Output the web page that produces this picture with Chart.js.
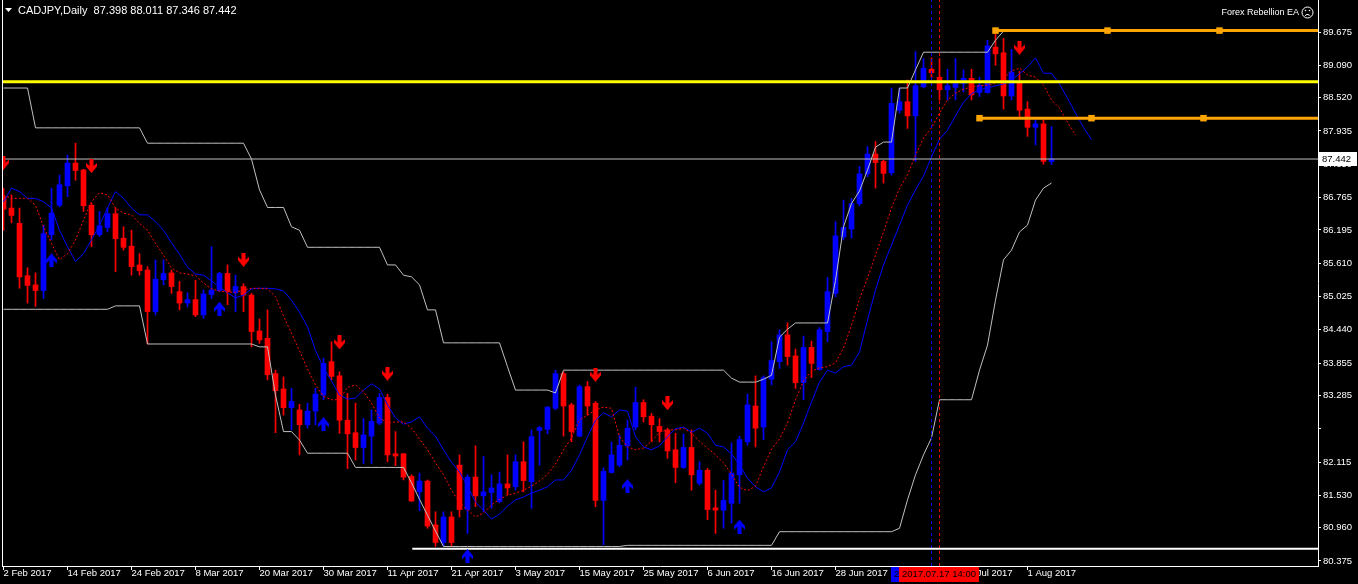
<!DOCTYPE html>
<html>
<head>
<meta charset="utf-8">
<title>CADJPY,Daily</title>
<script src="https://cdn.jsdelivr.net/npm/chart.js@4.4.1/dist/chart.umd.min.js"></script>
<style>
  html, body { margin:0; padding:0; background:#000; overflow:hidden; }
  #wrap { width:1358px; height:584px; }
</style>
</head>
<body>
<div id="wrap"><canvas id="chart" width="1358" height="584"></canvas></div>
<script>
// ============ Data (daily bars, 2 Feb 2017 .. 4 Aug 2017) ============
const SYMBOL = "CADJPY,Daily";

const OPEN = [
  86.78, 86.58, 86.31, 85.39, 85.23, 85.13, 86.11, 86.63, 86.97, 87.37,
  87.25, 86.63, 86.11, 86.24, 86.48, 86.05, 85.91, 85.58, 85.49, 84.76,
  85.32, 85.44, 85.11, 84.91, 84.97, 84.70, 85.06, 85.13, 85.43, 85.09,
  85.20, 85.05, 84.42, 84.29, 83.67, 83.40, 83.07, 83.03, 82.77, 83.01,
  83.29, 83.88, 83.63, 82.85, 82.63, 82.37, 82.57, 82.80, 83.25, 82.26,
  82.26, 81.86, 81.59, 81.78, 81.01, 80.70, 81.15, 82.06, 81.28, 81.85,
  81.52, 81.58, 81.42, 81.73, 81.68, 82.12, 81.77, 82.67, 82.69, 83.06,
  83.67, 83.12, 82.57, 83.44, 83.15, 81.44, 81.93, 82.06, 82.40, 82.73,
  83.16, 82.92, 82.74, 82.68, 82.33, 82.02, 82.37, 81.74, 81.97, 81.31,
  81.27, 81.39, 81.89, 82.47, 83.10, 82.73, 83.57, 83.88, 84.35, 83.98,
  83.51, 84.13, 83.74, 84.41, 85.08, 86.07, 86.21, 86.66, 87.18, 87.53,
  87.40, 87.20, 88.30, 88.45, 88.20, 88.71, 89.02, 88.88, 88.66, 88.70,
  88.77, 88.86, 88.61, 88.61, 89.41, 89.31, 88.55, 88.80, 88.32, 88.00,
  88.06, 87.398
];
const HIGH = [
  86.93, 86.81, 86.58, 85.53, 85.44, 86.28, 86.93, 87.16, 87.51, 87.72,
  87.26, 86.66, 86.52, 86.58, 86.58, 86.25, 86.19, 85.78, 85.55, 85.67,
  85.67, 85.49, 85.29, 85.09, 85.31, 85.14, 85.90, 85.45, 85.58, 85.40,
  85.25, 85.08, 84.63, 84.79, 83.73, 83.61, 83.41, 83.13, 83.15, 83.41,
  83.94, 84.23, 83.70, 83.32, 83.15, 82.88, 83.03, 83.32, 83.31, 82.65,
  82.27, 81.89, 81.92, 81.80, 81.24, 81.24, 81.24, 82.24, 81.89, 82.40,
  82.21, 81.89, 81.94, 82.24, 82.24, 82.47, 82.68, 82.74, 83.09, 83.73,
  83.70, 83.15, 83.47, 83.53, 83.18, 82.01, 82.47, 82.59, 82.85, 83.43,
  83.21, 82.97, 82.88, 82.71, 82.62, 82.61, 82.68, 82.12, 82.00, 81.62,
  81.79, 82.45, 82.57, 83.31, 83.63, 83.63, 84.23, 84.44, 84.56, 84.10,
  84.33, 84.24, 84.48, 85.36, 86.34, 86.72, 86.75, 87.31, 87.66, 87.75,
  87.42, 88.69, 88.69, 88.83, 89.33, 89.21, 89.22, 89.21, 89.02, 89.21,
  89.01, 89.02, 88.88, 89.53, 89.69, 89.56, 89.37, 88.98, 88.45, 88.16,
  88.13, 88.011
];
const LOW = [
  86.19, 86.32, 85.17, 84.91, 84.85, 84.99, 86.02, 86.60, 86.78, 87.07,
  86.52, 85.90, 86.08, 86.16, 85.46, 85.84, 85.40, 85.40, 84.19, 84.70,
  85.23, 85.08, 84.79, 84.84, 84.67, 84.64, 84.99, 85.11, 84.88, 84.76,
  84.76, 84.14, 84.20, 83.56, 82.63, 82.94, 82.68, 82.24, 82.71, 82.77,
  83.21, 83.56, 82.62, 82.00, 82.15, 82.09, 82.09, 82.77, 82.12, 82.05,
  81.80, 81.42, 81.26, 80.95, 80.63, 80.64, 80.63, 81.15, 80.86, 81.33,
  81.24, 81.30, 81.40, 81.54, 81.62, 81.59, 81.30, 82.06, 82.61, 83.03,
  82.57, 82.47, 82.56, 82.94, 81.33, 80.66, 81.92, 82.03, 82.15, 82.68,
  82.82, 82.47, 82.47, 82.18, 81.75, 82.00, 81.62, 81.71, 81.10, 80.86,
  80.95, 81.04, 81.39, 82.41, 82.38, 82.51, 83.47, 83.76, 83.82, 83.41,
  83.21, 83.60, 83.73, 84.23, 85.02, 86.02, 86.05, 86.62, 87.13, 86.93,
  87.02, 87.16, 88.25, 87.98, 87.40, 88.69, 88.87, 88.48, 88.48, 88.48,
  88.62, 88.48, 88.54, 88.60, 89.09, 88.32, 88.48, 88.19, 87.84, 87.69,
  87.35, 87.346
];
const CLOSE = [
  86.56, 86.45, 85.37, 85.22, 85.13, 86.13, 86.49, 86.99, 87.37, 87.24,
  86.62, 86.11, 86.27, 86.48, 86.04, 85.89, 85.55, 85.48, 84.76, 85.33,
  85.43, 85.20, 84.91, 84.97, 84.70, 85.07, 85.14, 85.43, 85.11, 85.20,
  85.05, 84.41, 84.26, 83.65, 83.37, 83.07, 83.18, 82.77, 83.01, 83.31,
  83.85, 83.62, 82.85, 82.61, 82.37, 82.59, 82.83, 83.25, 82.24, 82.22,
  81.85, 81.43, 81.78, 80.99, 80.70, 81.15, 80.70, 81.28, 81.85, 81.52,
  81.59, 81.66, 81.73, 81.66, 82.12, 81.79, 82.56, 82.72, 83.08, 83.67,
  83.10, 82.65, 83.44, 83.10, 81.44, 81.95, 82.24, 82.41, 82.71, 83.16,
  82.91, 82.77, 82.65, 82.31, 82.02, 82.37, 81.89, 81.97, 81.28, 81.27,
  81.44, 81.92, 82.51, 83.12, 82.71, 83.60, 83.90, 84.35, 83.97, 83.51,
  84.13, 83.85, 84.44, 85.11, 86.09, 86.24, 86.66, 87.18, 87.53, 87.38,
  87.19, 88.42, 88.45, 88.20, 88.73, 89.04, 88.96, 88.66, 88.73, 88.77,
  88.86, 88.57, 88.74, 89.43, 89.29, 88.55, 88.97, 88.30, 88.00, 88.06,
  87.40, 87.442
];

// slow line (blue), drawn 5 bars past the last candle
const JAW = [
  86.69, 86.93, 86.87, 86.75, 86.75, 86.69, 86.58, 86.19, 85.90, 85.64,
  85.78, 86.02, 86.28, 86.58, 86.87, 86.75, 86.58, 86.46, 86.46, 86.34,
  86.19, 85.97, 85.77, 85.54, 85.42, 85.40, 85.30, 85.19, 85.09, 85.00,
  85.05, 85.16, 85.17, 85.17, 85.16, 85.12, 84.96, 84.75, 84.49, 84.08,
  83.77, 83.54, 83.29, 83.22, 83.24, 83.38, 83.49, 83.40, 83.12, 82.89,
  82.78, 82.82, 82.91, 82.71, 82.57, 82.33, 82.11, 81.94, 81.69, 81.41,
  81.27, 81.11, 81.20, 81.34, 81.45, 81.50, 81.57, 81.62, 81.68, 81.80,
  81.80, 81.97, 82.24, 82.56, 82.85, 82.98, 82.91, 83.03, 83.01, 82.56,
  82.38, 82.33, 82.40, 82.56, 82.70, 82.73, 82.64, 82.71, 82.62, 82.41,
  82.38, 82.26, 82.06, 81.83, 81.68, 81.59, 81.66, 81.94, 82.33, 82.47,
  82.80, 83.17, 83.52, 83.73, 83.68, 83.79, 83.82, 84.05, 84.61, 85.14,
  85.58, 85.93, 86.28, 86.63, 86.90, 87.14, 87.48, 87.79, 87.95, 88.20,
  88.44, 88.59, 88.66, 88.69, 88.73, 88.76, 88.83, 88.94, 89.06, 89.22,
  88.95, 88.95, 88.76, 88.51, 88.25, 88.00, 87.78
];
// fast line (red dotted), drawn 3 bars past the last candle
const TEETH = [
  86.81, 86.75, 86.75, 86.75, 86.63, 86.25, 85.96, 85.67, 85.78, 86.02,
  86.37, 86.69, 86.85, 86.81, 86.58, 86.49, 86.46, 86.31, 86.19, 85.96,
  85.75, 85.53, 85.44, 85.42, 85.39, 85.26, 85.16, 85.12, 85.10, 85.10,
  85.14, 85.17, 85.17, 85.16, 85.02, 84.68, 84.38, 84.07, 83.75, 83.47,
  83.27, 83.21, 83.21, 83.43, 83.47, 83.35, 83.15, 82.89, 82.80, 82.82,
  82.82, 82.71, 82.52, 82.33, 82.10, 81.89, 81.62, 81.41, 81.27, 81.15,
  81.22, 81.36, 81.46, 81.53, 81.57, 81.62, 81.69, 81.78, 81.90, 82.08,
  82.33, 82.54, 82.85, 82.94, 83.03, 83.08, 83.06, 82.56, 82.38, 82.33,
  82.36, 82.48, 82.64, 82.68, 82.68, 82.71, 82.62, 82.48, 82.36, 82.24,
  82.10, 81.90, 81.67, 81.61, 81.69, 82.03, 82.34, 82.52, 82.80, 83.21,
  83.54, 83.71, 83.77, 83.79, 83.86, 84.12, 84.52, 84.98, 85.35, 85.75,
  86.16, 86.58, 86.93, 87.16, 87.51, 87.81, 87.99, 88.25, 88.48, 88.60,
  88.67, 88.71, 88.73, 88.74, 88.78, 88.85, 88.99, 89.04, 88.92, 88.88,
  88.74, 88.48, 88.34, 88.09, 87.86
];

// price channel (silver)
const CH_UP = [
  88.69, 88.69, 88.69, 88.69, 87.99, 87.99, 87.99, 87.99, 87.99, 87.99,
  87.99, 87.99, 87.99, 87.99, 87.99, 87.99, 87.99, 87.99, 87.72, 87.72,
  87.72, 87.72, 87.72, 87.72, 87.72, 87.72, 87.72, 87.72, 87.72, 87.72,
  87.72, 87.44, 86.90, 86.59, 86.59, 86.59, 86.25, 86.19, 85.89, 85.89,
  85.89, 85.89, 85.89, 85.89, 85.89, 85.89, 85.89, 85.89, 85.58, 85.58,
  85.40, 85.37, 85.23, 84.79, 84.79, 84.21, 84.21, 84.21, 84.21, 84.21,
  84.21, 84.21, 84.21, 83.79, 83.38, 83.38, 83.38, 83.38, 83.38, 83.33,
  83.73, 83.73, 83.73, 83.73, 83.73, 83.73, 83.73, 83.73, 83.73, 83.73,
  83.73, 83.73, 83.73, 83.73, 83.73, 83.73, 83.73, 83.73, 83.73, 83.73,
  83.73, 83.59, 83.52, 83.52, 83.52, 83.57, 83.64, 84.31, 84.45, 84.56,
  84.56, 84.56, 84.56, 84.56, 85.31, 86.25, 86.66, 86.88, 87.25, 87.65,
  87.74, 87.74, 88.69, 88.69, 89.01, 89.32, 89.32, 89.32, 89.32, 89.32,
  89.32, 89.32, 89.32, 89.32, 89.53, 89.69, 89.69, 89.69, 89.69, 89.69,
  89.69, 89.69
];
const CH_LO = [
  84.80, 84.80, 84.80, 84.80, 84.80, 84.80, 84.80, 84.80, 84.80, 84.80,
  84.80, 84.80, 84.80, 84.80, 84.86, 84.86, 84.86, 84.86, 84.19, 84.19,
  84.19, 84.19, 84.19, 84.19, 84.19, 84.19, 84.19, 84.19, 84.19, 84.19,
  84.19, 84.19, 84.14, 84.14, 83.29, 82.65, 82.65, 82.50, 82.27, 82.27,
  82.27, 82.27, 82.27, 82.27, 82.02, 82.02, 82.02, 82.02, 82.02, 82.02,
  82.02, 81.75, 81.46, 81.18, 80.90, 80.63, 80.63, 80.63, 80.63, 80.63,
  80.63, 80.63, 80.63, 80.63, 80.63, 80.63, 80.63, 80.63, 80.63, 80.63,
  80.63, 80.63, 80.63, 80.63, 80.63, 80.63, 80.63, 80.63, 80.65, 80.65,
  80.65, 80.65, 80.65, 80.65, 80.65, 80.65, 80.65, 80.65, 80.65, 80.65,
  80.65, 80.65, 80.65, 80.65, 80.65, 80.65, 80.65, 80.89, 80.89, 80.89,
  80.89, 80.89, 80.89, 80.89, 80.89, 80.89, 80.89, 80.89, 80.89, 80.89,
  80.89, 80.89, 80.95, 81.45, 81.89, 82.24, 82.54, 83.21, 83.21, 83.21,
  83.21, 83.21, 83.73, 84.17, 84.96, 85.67, 85.84, 86.16, 86.28, 86.72,
  86.93, 87.02
];

// signal arrows (bar index, price)
const SELL_IDX = [0, 11, 30, 42, 48, 74, 83, 127];
const SELL_VAL = [87.38, 87.32, 85.67, 84.22, 83.67, 83.65, 83.15, 89.40];
const BUY_IDX  = [6, 27, 40, 58, 78, 92];
const BUY_VAL  = [85.66, 84.81, 82.78, 80.46, 81.69, 80.98];

// chart objects
const YELLOW_LEVEL = 88.80;
const FLOOR_LEVEL = 80.59, FLOOR_FROM = 51.1;
const ORANGE_HI = 89.70, ORANGE_HI_IDX = [124, 138, 152];
const ORANGE_LO = 88.16, ORANGE_LO_IDX = [122, 136, 150];
const VLINE_BLUE = 116, VLINE_RED = 117;
const VLINE_BLUE_TXT = "2017.07.14 14:00", VLINE_RED_TXT = "2017.07.17 14:00";

// axes
const DATE_TICKS  = [0, 8, 16, 24, 32, 40, 48, 56, 64, 72, 80, 88, 96, 104, 112, 120, 128];
const DATE_LABELS = ["2 Feb 2017", "14 Feb 2017", "24 Feb 2017", "8 Mar 2017", "20 Mar 2017",
  "30 Mar 2017", "11 Apr 2017", "21 Apr 2017", "3 May 2017", "15 May 2017", "25 May 2017",
  "6 Jun 2017", "16 Jun 2017", "28 Jun 2017", "10 Jul 2017", "20 Jul 2017", "1 Aug 2017"];
const PRICE_TICKS = [89.675, 89.090, 88.520, 87.935, 87.350, 86.765, 86.195, 85.610, 85.025,
  84.440, 83.855, 83.285, 82.700, 82.115, 81.530, 80.960, 80.375];
const HIDDEN_TICKS = [82.700];

// ============ Layout ============
const X_MIN = -0.1875, X_MAX = 164.3125;
const Y_MIN = 80.287, Y_MAX = 90.2376;
const FONT = "'Liberation Sans', Arial, sans-serif";
const BLUE = "#0000ff", RED = "#ff0000", SILVER = "#c0c0c0", ORANGE = "#ffa500";

// ============ Helpers ============
const pts = (arr) => arr.map((v, i) => ({ x: i, y: v }));
const flat = (y, x0, x1) => [{ x: x0, y }, { x: x1, y }];

function arrowIcon(color, up){
  const c = document.createElement("canvas");
  c.width = 11; c.height = 14;
  const g = c.getContext("2d");
  const shape = [[3.5,0],[7.5,0],[7.5,7],[11,4],[11,7.5],[5.5,14],[0,7.5],[0,4],[3.5,7]];
  g.fillStyle = color;
  g.beginPath();
  shape.forEach(([x, y], k) => {
    const yy = up ? 14 - y : y;
    if (k) g.lineTo(x, yy); else g.moveTo(x, yy);
  });
  g.closePath(); g.fill();
  return c;
}

const candleColors = CLOSE.map((c, i) => c >= OPEN[i] ? BLUE : RED);

function orangeLine(level, idx){
  const data = idx.map(i => ({ x: i, y: level })).concat([{ x: X_MAX, y: level }]);
  return {
    type: "line", data, borderColor: ORANGE, borderWidth: 3,
    pointStyle: "rect", pointRadius: idx.map(() => 4.6).concat([0]),
    pointBackgroundColor: ORANGE, pointBorderWidth: 0, order: 1
  };
}

// ============ Overlay plugin ============
const overlay = {
  id: "overlay",
  beforeDraw(chart){
    const g = chart.ctx;
    g.save(); g.fillStyle = "#000"; g.fillRect(0, 0, chart.width, chart.height); g.restore();
  },
  afterDraw(chart){
    const g = chart.ctx, a = chart.chartArea, xs = chart.scales.x, ys = chart.scales.y;
    const last = CLOSE.length - 1;
    g.save();
    // left edge of the frame
    g.strokeStyle = "#fff"; g.lineWidth = 1;
    g.beginPath(); g.moveTo(a.left + 0.5, a.top); g.lineTo(a.left + 0.5, a.bottom); g.stroke();

    // header
    g.fillStyle = "#fff";
    g.beginPath(); g.moveTo(5, 8); g.lineTo(12, 8); g.lineTo(8.5, 12); g.closePath(); g.fill();
    g.font = "11px " + FONT; g.textBaseline = "middle"; g.textAlign = "left";
    const ohlc = [OPEN[last], HIGH[last], LOW[last], CLOSE[last]].map(v => v.toFixed(3)).join(" ");
    g.fillText(SYMBOL + "  " + ohlc, 18, 11);

    // expert name + face
    g.font = "9px " + FONT; g.textAlign = "right";
    g.fillText("Forex Rebellion EA", 1299, 12.5);
    g.strokeStyle = "#fff";
    g.beginPath(); g.arc(1307.5, 12.5, 5.5, 0, Math.PI * 2); g.stroke();
    g.beginPath(); g.arc(1305.5, 10.5, 0.8, 0, Math.PI * 2); g.arc(1309.5, 10.5, 0.8, 0, Math.PI * 2); g.fill();
    g.beginPath(); g.arc(1307.5, 17.5, 3, Math.PI * 1.2, Math.PI * 1.8); g.stroke();

    // current price box
    const py = Math.round(ys.getPixelForValue(CLOSE[last]));
    g.fillStyle = "#fff"; g.fillRect(a.right + 1, py - 7, 38, 14);
    g.fillStyle = "#000"; g.textAlign = "left"; g.font = "9.5px " + FONT;
    g.fillText(CLOSE[last].toFixed(3), a.right + 4, py + 0.5);

    // vertical line time labels
    const box = (idx, bg, txt) => {
      const cx = Math.floor(xs.getPixelForValue(idx));
      g.fillStyle = bg; g.fillRect(cx - 40, a.bottom + 1, 80, 15);
      g.fillStyle = "#000"; g.textAlign = "center";
      g.fillText(txt, cx, a.bottom + 8.5);
    };
    box(VLINE_BLUE, BLUE, VLINE_BLUE_TXT);
    box(VLINE_RED, RED, VLINE_RED_TXT);
    g.restore();
  }
};

// ============ Chart ============
const chart = new Chart(document.getElementById("chart"), {
  type: "line",
  data: {
    datasets: [
      { type: "line", data: SELL_IDX.map((x, k) => ({ x, y: SELL_VAL[k] })), showLine: false,
        pointStyle: arrowIcon(RED, false), pointRadius: 6, order: 0 },
      { type: "line", data: BUY_IDX.map((x, k) => ({ x, y: BUY_VAL[k] })), showLine: false,
        pointStyle: arrowIcon(BLUE, true), pointRadius: 6, order: 0 },
      { type: "line", data: flat(YELLOW_LEVEL, X_MIN, X_MAX), borderColor: "#ffff00", borderWidth: 3, pointRadius: 0, order: 1 },
      orangeLine(ORANGE_HI, ORANGE_HI_IDX),
      orangeLine(ORANGE_LO, ORANGE_LO_IDX),
      { type: "line", data: flat(CLOSE[CLOSE.length - 1], X_MIN, X_MAX), borderColor: SILVER, borderWidth: 1, pointRadius: 0, order: 1 },
      { type: "line", data: flat(FLOOR_LEVEL, FLOOR_FROM, X_MAX), borderColor: "#ffffff", borderWidth: 2, pointRadius: 0, order: 1 },
      { type: "line", data: [{ x: VLINE_BLUE, y: Y_MIN }, { x: VLINE_BLUE, y: Y_MAX }], borderColor: BLUE, borderWidth: 1, borderDash: [3, 3], pointRadius: 0, order: 2 },
      { type: "line", data: [{ x: VLINE_RED, y: Y_MIN }, { x: VLINE_RED, y: Y_MAX }], borderColor: RED, borderWidth: 1, borderDash: [3, 3], pointRadius: 0, order: 2 },
      { type: "line", data: pts(TEETH), borderColor: RED, borderWidth: 1, borderDash: [2, 2], pointRadius: 0, order: 3 },
      { type: "line", data: pts(JAW), borderColor: BLUE, borderWidth: 1, pointRadius: 0, order: 4 },
      { type: "line", data: pts(CH_UP), borderColor: SILVER, borderWidth: 1, pointRadius: 0, order: 5 },
      { type: "line", data: pts(CH_LO), borderColor: SILVER, borderWidth: 1, pointRadius: 0, order: 5 },
      { type: "bar", data: OPEN.map((o, i) => ({ x: i, y: [o, CLOSE[i]] })), backgroundColor: candleColors,
        barThickness: 5, grouped: false, minBarLength: 1, order: 6 },
      { type: "bar", data: LOW.map((l, i) => ({ x: i, y: [l, HIGH[i]] })), backgroundColor: candleColors,
        barThickness: 1, grouped: false, order: 7 }
    ]
  },
  options: {
    responsive: false,
    animation: false,
    devicePixelRatio: 1,
    events: [],
    layout: { autoPadding: false, padding: { left: 2, top: 0, right: 0, bottom: 0 } },
    plugins: { legend: { display: false }, tooltip: { enabled: false } },
    scales: {
      x: {
        type: "linear", min: X_MIN, max: X_MAX, offset: false,
        afterBuildTicks: (s) => { s.ticks = DATE_TICKS.map(v => ({ value: v })); },
        afterFit: (s) => { s.height = 18; s.paddingLeft = 0; s.paddingRight = 0; },
        ticks: { color: "#fff", font: { family: FONT, size: 9.5 }, align: "start", labelOffset: 0,
                 padding: -2, autoSkip: false, maxRotation: 0,
                 callback: (v, i) => DATE_LABELS[i] },
        grid: { drawOnChartArea: false, drawTicks: true, tickLength: 4, color: "#fff", offset: false },
        border: { display: true, color: "#fff" }
      },
      y: {
        type: "linear", position: "right", min: Y_MIN, max: Y_MAX,
        afterBuildTicks: (s) => { s.ticks = PRICE_TICKS.map(v => ({ value: v })); },
        afterFit: (s) => { s.width = 40; s.paddingTop = 0; s.paddingBottom = 0; },
        ticks: { color: "#fff", font: { family: FONT, size: 9.5 }, padding: 2,
                 callback: (v) => HIDDEN_TICKS.includes(v) ? "" : v.toFixed(3) },
        grid: { drawOnChartArea: false, drawTicks: true, tickLength: 3, color: "#fff" },
        border: { display: true, color: "#fff" }
      }
    }
  },
  plugins: [overlay]
});
</script>
</body>
</html>
